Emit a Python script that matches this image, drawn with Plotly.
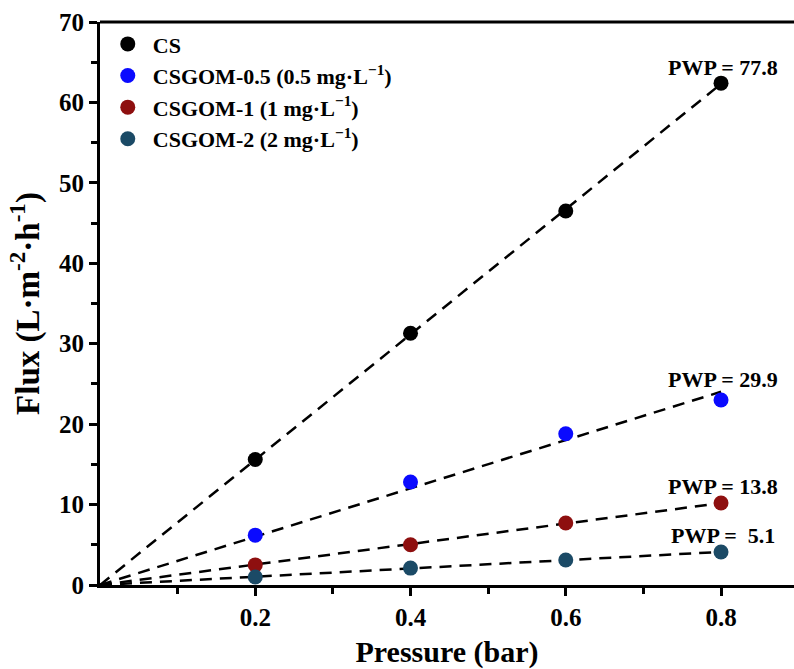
import numpy as np
import plotly.graph_objects as go

pressure = [0.2, 0.4, 0.6, 0.8]
names = ["CS", "CSGOM-0.5 (0.5 mg·L<sup>−1</sup>)", "CSGOM-1 (1 mg·L<sup>−1</sup>)", "CSGOM-2 (2 mg·L<sup>−1</sup>)"]
cs = [15.6, 31.3, 46.5, 62.4]
csgom05 = [6.2, 12.8, 18.8, 23.0]
csgom1 = [2.5, 5.0, 7.7, 10.2]
csgom2 = [1.0, 2.1, 3.1, 4.1]
pwp_labels = ["PWP = 77.8", "PWP = 29.9", "PWP = 13.8", "PWP =  5.1"]
colors = ["#000000", "#0a0aff", "#8e0f0f", "#1b4a66"]

series = [cs, csgom05, csgom1, csgom2]
FONT = "Liberation Serif"

fig = go.Figure()
x = np.array(pressure)
for vals in series:
    y = np.array(vals)
    slope = float((x * y).sum() / (x * x).sum())
    fx = [0.0, 0.8]
    fig.add_trace(go.Scatter(x=fx, y=[slope * v for v in fx], mode="lines",
                             line=dict(color="black", width=2.5, dash="12px,8px"),
                             showlegend=False, hoverinfo="skip"))
for name, vals, c in zip(names, series, colors):
    fig.add_trace(go.Scatter(x=pressure, y=vals, mode="markers", name=name,
                             marker=dict(color=c, size=15)))

label_y = [64.4, 25.6, 12.3, 6.2]
for lab, ly in zip(pwp_labels, label_y):
    fig.add_annotation(x=0.803, y=ly, text=lab, showarrow=False, xanchor="center",
                       yanchor="middle",
                       font=dict(family=FONT, size=22, color="black", weight="bold"))

axis_common = dict(showline=True, linecolor="black", linewidth=3, ticks="outside",
                   tickwidth=3, ticklen=8, tickcolor="black", showgrid=False,
                   zeroline=False, mirror=False,
                   tickfont=dict(family=FONT, size=25, color="black", weight="bold"))
fig.update_layout(
    width=794, height=669,
    margin=dict(l=100, r=0, t=22, b=84),
    plot_bgcolor="white", paper_bgcolor="white",
    legend=dict(x=0.004, y=0.998, xanchor="left", yanchor="top",
                bgcolor="rgba(0,0,0,0)",
                font=dict(family=FONT, size=22, color="black", weight="bold"),
                tracegroupgap=7, itemwidth=40),
    xaxis=dict(range=[0, 0.894], tickvals=[0.2, 0.4, 0.6, 0.8], ticktext=["0.2", "0.4", "0.6", "0.8"],
               minor=dict(tickvals=[0.1, 0.3, 0.5, 0.7], ticks="outside", ticklen=6, tickwidth=3, tickcolor="black"),
               title=dict(text="Pressure (bar)", standoff=16,
                          font=dict(family=FONT, size=30, color="black", weight="bold")),
               **axis_common),
    yaxis=dict(range=[0, 70], dtick=10,
               minor=dict(dtick=5, ticks="outside", ticklen=6, tickwidth=3, tickcolor="black"),
               title=dict(text="Flux (L·m<sup>-2</sup>·h<sup>-1</sup>)", standoff=10,
                          font=dict(family=FONT, size=33, color="black", weight="bold")),
               **axis_common),
)
fig.add_shape(type="line", xref="paper", yref="paper", x0=0, x1=1, y0=1, y1=1,
              line=dict(color="black", width=3))
fig.write_html("out.html")
